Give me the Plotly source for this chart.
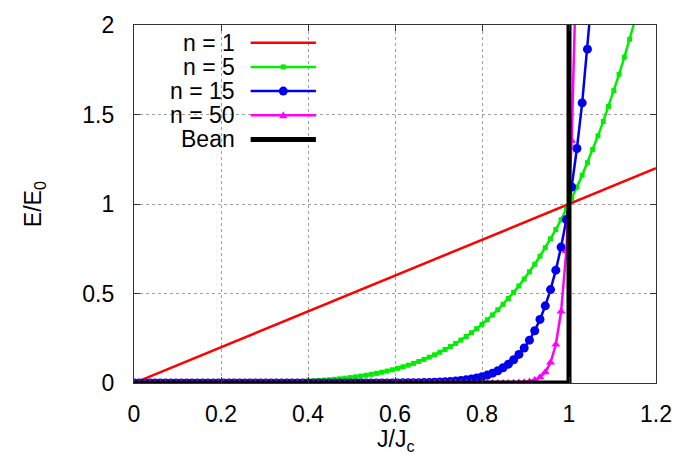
import plotly.graph_objects as go

# Reduced current density J/Jc at the sampled points
J = [
    0.0, 0.01212, 0.02424, 0.03636, 0.04848, 0.06061, 0.07273, 0.08485, 0.09697, 0.10909,
    0.12121, 0.13333, 0.14545, 0.15758, 0.1697, 0.18182, 0.19394, 0.20606, 0.21818, 0.2303,
    0.24242, 0.25455, 0.26667, 0.27879, 0.29091, 0.30303, 0.31515, 0.32727, 0.33939, 0.35152,
    0.36364, 0.37576, 0.38788, 0.4, 0.41212, 0.42424, 0.43636, 0.44848, 0.46061, 0.47273,
    0.48485, 0.49697, 0.50909, 0.52121, 0.53333, 0.54545, 0.55758, 0.5697, 0.58182, 0.59394,
    0.60606, 0.61818, 0.6303, 0.64242, 0.65455, 0.66667, 0.67879, 0.69091, 0.70303, 0.71515,
    0.72727, 0.73939, 0.75152, 0.76364, 0.77576, 0.78788, 0.8, 0.81212, 0.82424, 0.83636,
    0.84848, 0.86061, 0.87273, 0.88485, 0.89697, 0.90909, 0.92121, 0.93333, 0.94545, 0.95758,
    0.9697, 0.98182, 0.99394, 1.00606, 1.01818, 1.0303, 1.04242, 1.05455, 1.06667, 1.07879,
    1.09091, 1.10303, 1.11515, 1.12727, 1.13939, 1.15152,
]

# Normalised field E/E0 for each power-law exponent
E_n1_J = [0.0, 1.2]
E_n1 = [0.0, 1.2]

E_n5 = [
    0.0, 0.0, 0.0, 0.0, 0.0, 0.0, 0.0, 0.0, 0.0, 0.0,
    0.0, 0.0, 0.0001, 0.0001, 0.0001, 0.0002, 0.0003, 0.0004, 0.0005, 0.0006,
    0.0008, 0.0011, 0.0013, 0.0017, 0.0021, 0.0026, 0.0031, 0.0038, 0.0045, 0.0054,
    0.0064, 0.0075, 0.0088, 0.0102, 0.0119, 0.0137, 0.0158, 0.0181, 0.0207, 0.0236,
    0.0268, 0.0303, 0.0342, 0.0385, 0.0432, 0.0483, 0.0539, 0.06, 0.0667, 0.0739,
    0.0818, 0.0903, 0.0995, 0.1094, 0.1201, 0.1317, 0.1441, 0.1574, 0.1717, 0.1871,
    0.2035, 0.221, 0.2397, 0.2597, 0.281, 0.3036, 0.3277, 0.3533, 0.3804, 0.4092,
    0.4398, 0.4721, 0.5063, 0.5424, 0.5806, 0.6209, 0.6634, 0.7082, 0.7554, 0.8051,
    0.8574, 0.9123, 0.9701, 1.0307, 1.0943, 1.161, 1.2309, 1.3041, 1.3808, 1.4611,
    1.5451, 1.6328, 1.7245, 1.8203, 1.9203, 2.0246,
]

E_n15 = [
    0.0, 0.0, 0.0, 0.0, 0.0, 0.0, 0.0, 0.0, 0.0, 0.0,
    0.0, 0.0, 0.0, 0.0, 0.0, 0.0, 0.0, 0.0, 0.0, 0.0,
    0.0, 0.0, 0.0, 0.0, 0.0, 0.0, 0.0, 0.0, 0.0, 0.0,
    0.0, 0.0, 0.0, 0.0, 0.0, 0.0, 0.0, 0.0, 0.0, 0.0,
    0.0, 0.0, 0.0, 0.0001, 0.0001, 0.0001, 0.0002, 0.0002, 0.0003, 0.0004,
    0.0005, 0.0007, 0.001, 0.0013, 0.0017, 0.0023, 0.003, 0.0039, 0.0051, 0.0065,
    0.0084, 0.0108, 0.0138, 0.0175, 0.0222, 0.028, 0.0352, 0.0441, 0.0551, 0.0685,
    0.085, 0.1052, 0.1298, 0.1596, 0.1957, 0.2394, 0.292, 0.3553, 0.4311, 0.5219,
    0.6303, 0.7594, 0.9128, 1.0949, 1.3103, 1.5649, 1.865, 2.2181,
]

E_n50 = [
    0.0, 0.0, 0.0, 0.0, 0.0, 0.0, 0.0, 0.0, 0.0, 0.0,
    0.0, 0.0, 0.0, 0.0, 0.0, 0.0, 0.0, 0.0, 0.0, 0.0,
    0.0, 0.0, 0.0, 0.0, 0.0, 0.0, 0.0, 0.0, 0.0, 0.0,
    0.0, 0.0, 0.0, 0.0, 0.0, 0.0, 0.0, 0.0, 0.0, 0.0,
    0.0, 0.0, 0.0, 0.0, 0.0, 0.0, 0.0, 0.0, 0.0, 0.0,
    0.0, 0.0, 0.0, 0.0, 0.0, 0.0, 0.0, 0.0, 0.0, 0.0,
    0.0, 0.0, 0.0, 0.0, 0.0, 0.0, 0.0, 0.0, 0.0001, 0.0001,
    0.0003, 0.0005, 0.0011, 0.0022, 0.0044, 0.0085, 0.0165, 0.0318, 0.0605, 0.1145,
    0.2147, 0.3995, 0.7379, 1.3528, 2.462,
]

# Bean critical-state model: zero field below Jc, vertical step at Jc
bean_J = [0.0, 1.0, 1.0]
bean_E = [0.0, 0.0, 2.0]

x_ticks = [0, 0.2, 0.4, 0.6, 0.8, 1.0, 1.2]
x_tick_text = ["0", "0.2", "0.4", "0.6", "0.8", "1", "1.2"]
y_ticks = [0, 0.5, 1.0, 1.5, 2.0]
y_tick_text = ["0", "0.5", "1", "1.5", "2"]

labels = ["n = 1", "n = 5", "n = 15", "n = 50", "Bean"]
colors = ["#ff0000", "#00ee00", "#0000ee", "#ff00ff", "#000000"]

FONT = "Liberation Sans, Arial, sans-serif"
FS = 23
W, H = 684, 457
L, R, T, B = 134, 22, 20, 74
PW, PH = W - L - R, H - T - B


def px(xp):
    return (xp - L) / PW


def py(yp):
    return (H - B - yp) / PH


fig = go.Figure()
fig.add_trace(go.Scatter(x=E_n1_J, y=E_n1, mode="lines", name=labels[0],
                         line=dict(color=colors[0], width=2.5)))
fig.add_trace(go.Scatter(x=J[:len(E_n5)], y=E_n5, mode="lines+markers", name=labels[1],
                         line=dict(color=colors[1], width=2.5),
                         marker=dict(symbol="square", size=5, color=colors[1])))
fig.add_trace(go.Scatter(x=J[:len(E_n15)], y=E_n15, mode="lines+markers", name=labels[2],
                         line=dict(color=colors[2], width=2.5),
                         marker=dict(symbol="circle", size=9, color=colors[2])))
fig.add_trace(go.Scatter(x=J[:len(E_n50)], y=E_n50, mode="lines+markers", name=labels[3],
                         line=dict(color=colors[3], width=2.5),
                         marker=dict(symbol="triangle-up", size=8, color=colors[3])))
fig.add_trace(go.Scatter(x=bean_J, y=bean_E, mode="lines", name=labels[4],
                         line=dict(color=colors[4], width=5)))

# Key in the upper left: right-aligned label followed by a line sample
shapes = []
annotations = []
row_y = [38, 62.5, 87, 111.5, 136]
for i, (lab, col) in enumerate(zip(labels, colors)):
    yy = py(row_y[i])
    annotations.append(dict(x=px(238), y=yy, xref="paper", yref="paper", text=lab,
                            showarrow=False, xanchor="right", yanchor="middle",
                            font=dict(family=FONT, size=FS, color="#000")))
    shapes.append(dict(type="line", xref="paper", yref="paper", x0=px(252), x1=px(318),
                       y0=yy, y1=yy, line=dict(color=col, width=5 if i == 4 else 2.5)))
cx = px(285)
shapes.append(dict(type="rect", xref="paper", yref="paper", xsizemode="pixel", ysizemode="pixel",
                   xanchor=cx, yanchor=py(row_y[1]), x0=-2.5, x1=2.5, y0=-2.5, y1=2.5,
                   fillcolor=colors[1], line=dict(width=0)))
shapes.append(dict(type="circle", xref="paper", yref="paper", xsizemode="pixel", ysizemode="pixel",
                   xanchor=cx, yanchor=py(row_y[2]), x0=-4.5, x1=4.5, y0=-4.5, y1=4.5,
                   fillcolor=colors[2], line=dict(width=0)))
shapes.append(dict(type="path", xref="paper", yref="paper", xsizemode="pixel", ysizemode="pixel",
                   xanchor=cx, yanchor=py(row_y[3]), path="M-4,-3 L4,-3 L0,4 Z",
                   fillcolor=colors[3], line=dict(width=0)))

# Axis titles
annotations.append(dict(x=0.5, y=py(441), xref="paper", yref="paper", text="J/J<sub>c</sub>",
                        showarrow=False, xanchor="center", yanchor="middle",
                        font=dict(family=FONT, size=FS, color="#000")))
annotations.append(dict(x=px(33), y=0.5, xref="paper", yref="paper", text="E/E<sub>0</sub>",
                        showarrow=False, xanchor="center", yanchor="middle", textangle=-90,
                        font=dict(family=FONT, size=FS, color="#000")))

axis_common = dict(showline=True, linecolor="#333", linewidth=1.3, mirror="ticks",
                   ticks="inside", ticklen=6, tickwidth=1, tickcolor="#333",
                   showgrid=True, gridcolor="#a0a0a0", griddash="dot", gridwidth=1,
                   zeroline=False, tickfont=dict(family=FONT, size=FS, color="#000"))

fig.update_layout(
    width=W, height=H,
    margin=dict(l=L, r=R, t=T, b=B),
    paper_bgcolor="white", plot_bgcolor="white",
    showlegend=False,
    shapes=shapes, annotations=annotations,
    xaxis=dict(range=[0, 1.2], tickvals=x_ticks, ticktext=x_tick_text,
               ticklabelstandoff=10, **axis_common),
    yaxis=dict(range=[0, 2], tickvals=y_ticks, ticktext=y_tick_text,
               ticklabelstandoff=14, **axis_common),
)

fig.write_html("out.html")
